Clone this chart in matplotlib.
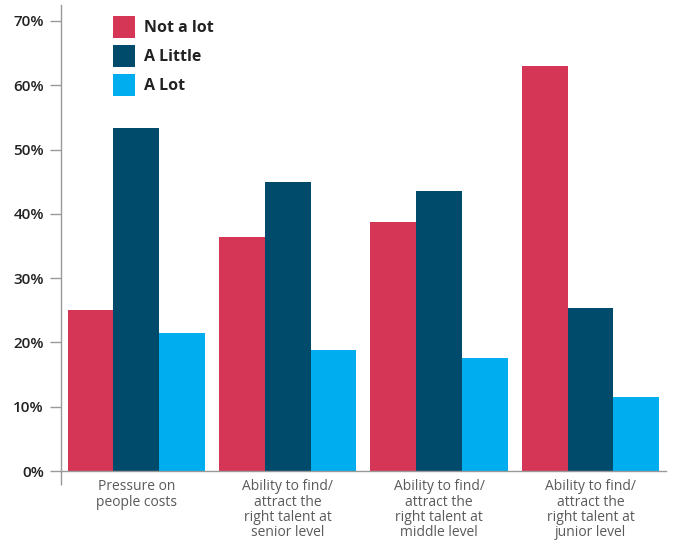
import numpy as np
import matplotlib.pyplot as plt
from matplotlib.patches import Patch

plt.rcParams['font.family'] = ['Open Sans', 'DejaVu Sans']

categories = ['Pressure on\npeople costs',
              'Ability to find/\nattract the\nright talent at\nsenior level',
              'Ability to find/\nattract the\nright talent at\nmiddle level',
              'Ability to find/\nattract the\nright talent at\njunior level']
series_names = ['Not a lot', 'A Little', 'A Lot']
not_a_lot = [25.0, 36.4, 38.8, 63.0]
a_little = [53.4, 44.9, 43.6, 25.4]
a_lot = [21.5, 18.9, 17.6, 11.5]
y_ticks = [0, 10, 20, 30, 40, 50, 60, 70]

colors = ['#D63655', '#004A6B', '#00AEEF']

fig = plt.figure(figsize=(6.76, 5.44), dpi=100)
ax = fig.add_axes([0.0895, 0.134, 0.896, 0.856])

x = np.arange(len(categories))
width = 0.302
for i, (vals, c) in enumerate(zip([not_a_lot, a_little, a_lot], colors)):
    ax.bar(x + (i - 1) * width, vals, width=width, color=c, linewidth=0)

ax.set_xlim(-0.5, 3.5)
ax.set_ylim(0, 72.4)
ax.set_yticks(y_ticks)
ax.set_yticklabels([f'{t}%' for t in y_ticks])
ax.set_xticks(x)
ax.set_xticklabels(categories, fontsize=10, color='#5a5a5a', linespacing=1.02)
ax.tick_params(axis='x', length=0, pad=6)
ax.tick_params(axis='y', length=8, width=1, color='#999999', pad=4,
               labelsize=11, labelcolor='#222222')
for lbl in ax.get_yticklabels():
    lbl.set_fontweight('semibold')

# small downward extension of the left spine
ax.set_xticks([-0.5], minor=True)
ax.tick_params(axis='x', which='minor', length=10, width=1, color='#999999')

for side in ['top', 'right']:
    ax.spines[side].set_visible(False)
for side in ['left', 'bottom']:
    ax.spines[side].set_color('#999999')
    ax.spines[side].set_linewidth(1)

handles = [Patch(facecolor=c, edgecolor='none') for c in colors]
fig.legend(handles, series_names, loc='upper left',
           bbox_to_anchor=(105 / 676, (544 - 8) / 544),
           frameon=False, borderpad=0, handlelength=1.4, handleheight=1.75,
           handletextpad=0.55, labelspacing=0.42,
           prop={'size': 11.5, 'weight': 'bold'}, labelcolor='#222222')

fig.savefig('out.png', dpi=100)
